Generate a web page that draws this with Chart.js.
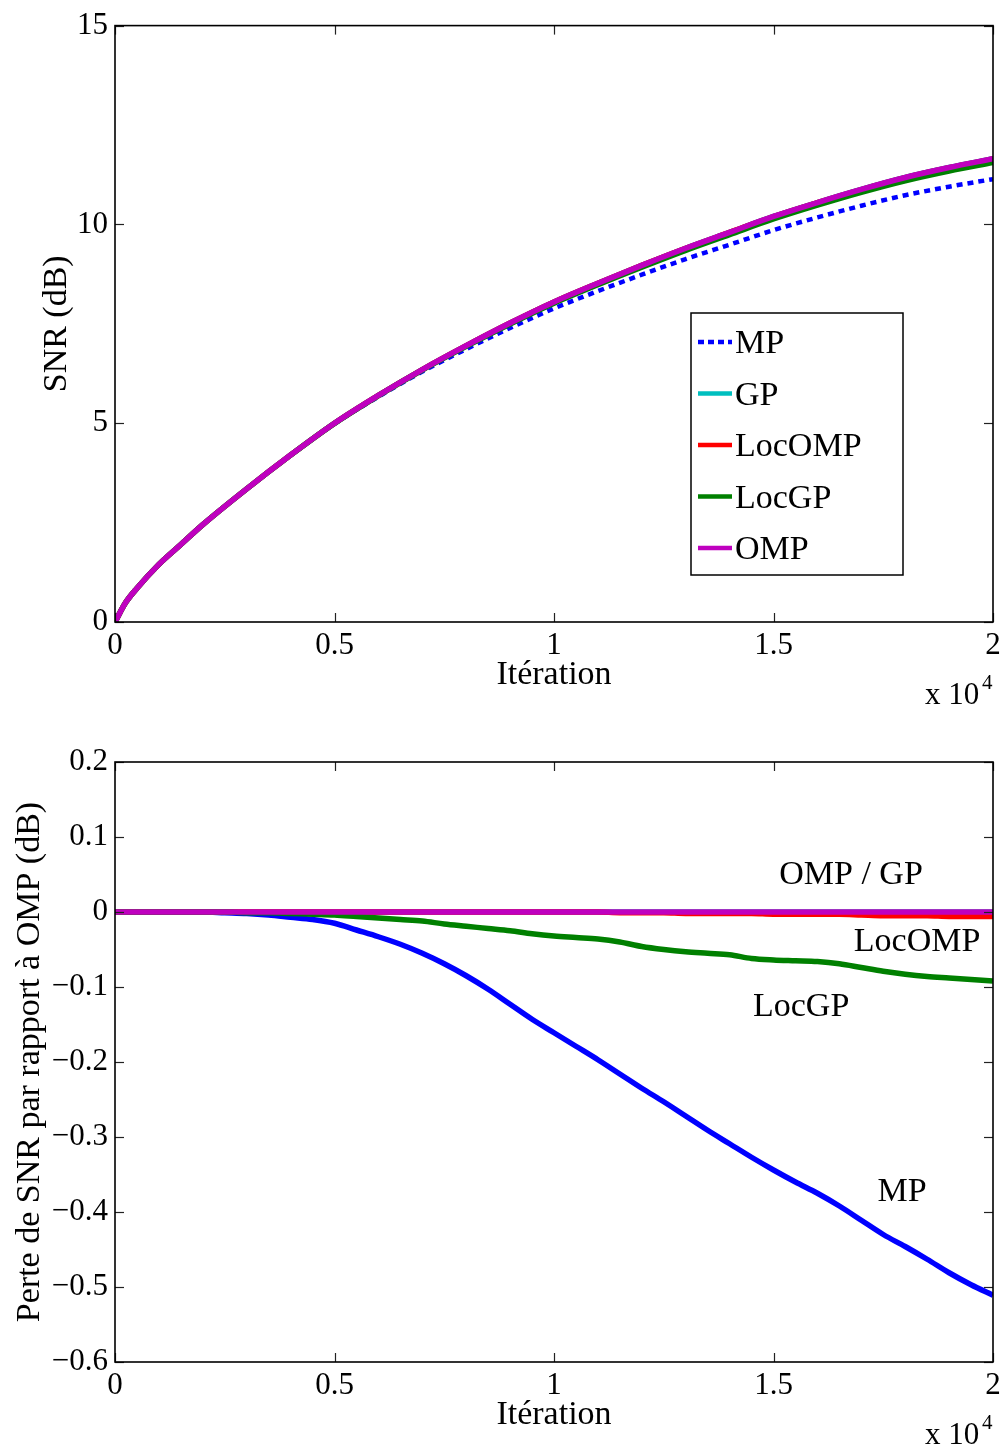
<!DOCTYPE html>
<html><head><meta charset="utf-8">
<script src="https://cdn.jsdelivr.net/npm/chart.js@4.4.1/dist/chart.umd.min.js"></script>
<style>
html,body{margin:0;padding:0;background:#fff;}
#wrap{position:relative;width:1006px;height:1447px;background:#fff;}
canvas{position:absolute;left:0;}
</style></head><body>
<div id="wrap">
<canvas id="topChart" width="1006" height="720" style="top:0"></canvas>
<canvas id="botChart" width="1006" height="727" style="top:720px"></canvas>
</div>
<script>
// ---------- DATA ----------
const seriesNames = ['MP','GP','LocOMP','LocGP','OMP'];
const xTickLabels = ['0','0.5','1','1.5','2'];

// Top chart: SNR (dB) vs iteration
const iterTop   = [0,250,500,1000,1500,2000,3000,4000,5000,6000,7000,8000,9000,10000,11000,12000,13000,14000,15000,16000,17000,18000,19000,20000];
const snrMP     = [0,0.50,0.85,1.45,1.95,2.45,3.348,4.193,4.985,5.666,6.297,6.864,7.396,7.887,8.323,8.735,9.129,9.490,9.855,10.175,10.469,10.733,10.949,11.139];
const snrGP     = [0,0.50,0.85,1.45,1.95,2.45,3.350,4.200,5.000,5.700,6.350,6.950,7.520,8.050,8.520,8.970,9.400,9.800,10.200,10.550,10.880,11.180,11.430,11.650];
const snrLocOMP = [0,0.50,0.85,1.45,1.95,2.45,3.350,4.200,5.000,5.700,6.350,6.950,7.520,8.050,8.520,8.969,9.398,9.798,10.197,10.547,10.876,11.175,11.424,11.644];
const snrLocGP  = [0,0.50,0.85,1.45,1.95,2.45,3.349,4.198,4.996,5.692,6.338,6.931,7.495,8.018,8.484,8.925,9.348,9.743,10.136,10.484,10.807,11.098,11.343,11.558];
const snrOMP    = [0,0.50,0.85,1.45,1.95,2.45,3.350,4.200,5.000,5.700,6.350,6.950,7.520,8.050,8.520,8.970,9.400,9.800,10.200,10.550,10.880,11.180,11.430,11.650];

// Bottom chart: SNR loss relative to OMP (dB)
const iterBot    = [0,500,1000,1500,2000,2500,3000,3500,4000,4500,5000,5500,6000,6500,7000,7500,8000,8500,9000,9500,10000,10500,11000,11500,12000,12500,13000,13500,14000,14500,15000,15500,16000,16500,17000,17500,18000,18500,19000,19500,20000];
const lossMP     = [0,0,0,0,0,-0.001,-0.002,-0.004,-0.007,-0.010,-0.015,-0.024,-0.033,-0.043,-0.055,-0.069,-0.085,-0.103,-0.123,-0.143,-0.161,-0.179,-0.197,-0.216,-0.235,-0.253,-0.272,-0.291,-0.309,-0.327,-0.344,-0.360,-0.375,-0.392,-0.411,-0.430,-0.446,-0.463,-0.481,-0.497,-0.511];
const lossGP     = [0,0,0,0,0,0,0,0,0,0,0,0,0,0,0,0,0,0,0,0,0,0,0,0,0,0,0,0,0,0,0,0,0,0,0,0,0,0,0,0,0];
const lossLocOMP = [0,0,0,0,0,0,0,0,0,0,0,0,0,0,0,0,0,0,0,0,0,0,0,-0.001,-0.001,-0.001,-0.002,-0.002,-0.002,-0.002,-0.003,-0.003,-0.003,-0.003,-0.004,-0.005,-0.005,-0.005,-0.006,-0.006,-0.006];
const lossLocGP  = [0,0,0,0,0,0,-0.001,-0.001,-0.002,-0.003,-0.004,-0.006,-0.008,-0.010,-0.012,-0.016,-0.019,-0.022,-0.025,-0.029,-0.032,-0.034,-0.036,-0.040,-0.046,-0.050,-0.053,-0.055,-0.057,-0.062,-0.064,-0.065,-0.066,-0.069,-0.074,-0.079,-0.083,-0.086,-0.088,-0.090,-0.092];
const lossOMP    = [0,0,0,0,0,0,0,0,0,0,0,0,0,0,0,0,0,0,0,0,0,0,0,0,0,0,0,0,0,0,0,0,0,0,0,0,0,0,0,0,0];

// Text annotations on the bottom chart (data coordinates)
const annotTexts = ['OMP / GP','LocOMP','LocGP','MP'];
const annotX     = [16765, 18270, 15630, 17930];
const annotY     = [0.052, -0.037, -0.124, -0.371];

// ---------- STYLE ----------
const SERIF = '"Liberation Serif", "Times New Roman", serif';
const colors = {MP:'#0000ff', GP:'#00bfbf', LocOMP:'#ff0000', LocGP:'#008000', OMP:'#bf00bf'};
const drawOrder = {MP:4, GP:3, LocOMP:2, LocGP:1, OMP:0};

function pairs(xs, ys){ return xs.map((v,i)=>({x:v, y:ys[i]})); }

function makeDatasets(xs, arrs, dotted){
  return seriesNames.map((n,i)=>({
    label:n,
    data:pairs(xs, arrs[i]),
    borderColor:colors[n],
    backgroundColor:colors[n],
    borderWidth:(n==='MP' && dotted)?4.5:5.5,
    borderDash:(n==='MP' && dotted)?[6,5]:[],
    pointRadius:0,
    fill:false,
    tension:0,
    cubicInterpolationMode:'monotone',
    order:drawOrder[n]
  }));
}

function line(ctx,x1,y1,x2,y2){ ctx.beginPath(); ctx.moveTo(x1,y1); ctx.lineTo(x2,y2); ctx.stroke(); }

const framePlugin = {
  id:'frame',
  afterDatasetsDraw(chart){
    const ctx = chart.ctx;
    const {left,right,top,bottom} = chart.chartArea;
    const xs = chart.scales.x, ys = chart.scales.y;
    ctx.save();
    ctx.setLineDash([]);
    ctx.strokeStyle = '#222'; ctx.lineWidth = 1.2;
    const TL = 9;
    xs.ticks.forEach(t=>{ const p = Math.round(xs.getPixelForValue(t.value))+0.5; line(ctx,p,bottom,p,bottom-TL); line(ctx,p,top,p,top+TL); });
    ys.ticks.forEach(t=>{ const p = Math.round(ys.getPixelForValue(t.value))+0.5; line(ctx,left,p,left+TL,p); line(ctx,right,p,right-TL,p); });
    ctx.strokeStyle = '#000'; ctx.lineWidth = 1.6;
    ctx.strokeRect(left, top, right-left, bottom-top);
    // x 10^4 multiplier
    ctx.fillStyle = '#000'; ctx.textAlign = 'left'; ctx.textBaseline = 'alphabetic';
    ctx.font = '31px ' + SERIF;
    ctx.fillText('x 10', right-68, bottom+82);
    ctx.font = '21px ' + SERIF;
    ctx.fillText('4', right-11, bottom+67);
    ctx.restore();
  }
};

const legendPlugin = {
  id:'boxLegend',
  afterDraw(chart, args, opts){
    if(!opts || !opts.show) return;
    const ctx = chart.ctx;
    const bx=691, by=313, bw=212, bh=262;
    ctx.save();
    ctx.fillStyle='#fff'; ctx.fillRect(bx,by,bw,bh);
    ctx.strokeStyle='#000'; ctx.lineWidth=1.5; ctx.setLineDash([]);
    ctx.strokeRect(bx,by,bw,bh);
    const rowY=[342,393.5,445,496.5,548];
    chart.data.datasets.forEach((ds,i)=>{
      ctx.strokeStyle=ds.borderColor; ctx.lineWidth=4.5;
      ctx.setLineDash(ds.borderDash && ds.borderDash.length ? [6,4] : []);
      line(ctx,698,rowY[i],732,rowY[i]);
      ctx.setLineDash([]);
      ctx.fillStyle='#000'; ctx.font='34px '+SERIF; ctx.textAlign='left'; ctx.textBaseline='alphabetic';
      ctx.fillText(ds.label, 735, rowY[i]+11);
    });
    ctx.restore();
  }
};

const annotPlugin = {
  id:'annot',
  afterDraw(chart, args, opts){
    if(!opts || !opts.show) return;
    const ctx = chart.ctx;
    ctx.save();
    ctx.fillStyle='#000'; ctx.font='34px '+SERIF; ctx.textAlign='center'; ctx.textBaseline='alphabetic';
    annotTexts.forEach((t,i)=>{
      const px = chart.scales.x.getPixelForValue(annotX[i]);
      const py = chart.scales.y.getPixelForValue(annotY[i]);
      ctx.fillText(t, px, py+11);
    });
    ctx.restore();
  }
};

function baseOptions(cfg){
  return {
    responsive:false,
    animation:false,
    devicePixelRatio:1,
    layout:{padding:{left:0, right:13, top:cfg.padTop, bottom:0}},
    plugins:{
      legend:{display:false},
      tooltip:{enabled:false},
      boxLegend:{show:cfg.legend},
      annot:{show:cfg.annot}
    },
    scales:{
      x:{
        type:'linear', min:0, max:20000,
        ticks:{stepSize:5000, color:'#000', font:{family:SERIF, size:31}, padding:5, maxRotation:0,
               callback:(v)=>{ const i = Math.round(v/5000); return xTickLabels[i]; }},
        grid:{display:false, drawTicks:false},
        border:{display:false},
        title:{display:true, text:'Itération', color:'#000', font:{family:SERIF, size:34}, padding:{top:0,bottom:cfg.xTitlePad}},
        afterFit:(s)=>{ s.height = cfg.xHeight; }
      },
      y:{
        type:'linear', min:cfg.yMin, max:cfg.yMax,
        ticks:{stepSize:cfg.yStep, color:'#000', font:{family:SERIF, size:31}, padding:7,
               callback:cfg.yFmt},
        grid:{display:false, drawTicks:false},
        border:{display:false},
        title:{display:true, text:cfg.yTitle, color:'#000', font:{family:SERIF, size:34}, padding:{top:cfg.yTitlePad,bottom:0}},
        afterFit:(s)=>{ s.width = 115; }
      }
    }
  };
}

new Chart(document.getElementById('topChart'), {
  type:'line',
  data:{datasets:makeDatasets(iterTop,[snrMP,snrGP,snrLocOMP,snrLocGP,snrOMP],true)},
  options:baseOptions({padTop:22, xHeight:98, xTitlePad:25, yMin:0, yMax:15, yStep:5,
    yFmt:(v)=>String(v), yTitle:'SNR (dB)', yTitlePad:37, legend:true, annot:false}),
  plugins:[framePlugin, legendPlugin, annotPlugin]
});

new Chart(document.getElementById('botChart'), {
  type:'line',
  data:{datasets:makeDatasets(iterBot,[lossMP,lossGP,lossLocOMP,lossLocGP,lossOMP],false)},
  options:baseOptions({padTop:42, xHeight:85, xTitlePad:12, yMin:-0.6, yMax:0.2, yStep:0.1,
    yFmt:(v)=>{ const r = Math.round(v*10)/10; if(r===0) return '0'; return (r<0?'\u2212':'') + Math.abs(r).toFixed(1); },
    yTitle:'Perte de SNR par rapport à OMP (dB)', yTitlePad:10, legend:false, annot:true}),
  plugins:[framePlugin, legendPlugin, annotPlugin]
});
</script>
</body></html>
